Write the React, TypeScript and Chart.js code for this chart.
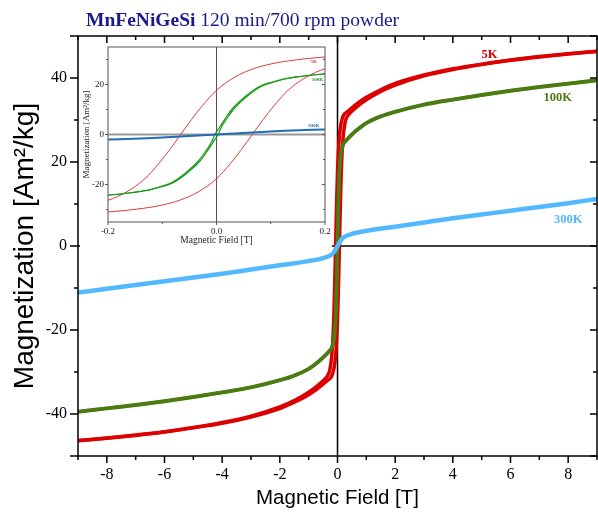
import React, { useEffect, useRef } from "react";
import { Chart, registerables } from "chart.js";

Chart.register(...registerables);

// ---------------- data ----------------
// 5 K loop, descending branch (coming from +9 T), listed in ascending field order
const FIELD_5K_DESC = [-9, -8, -7, -6, -5, -4, -3, -2, -1.5, -1, -0.7, -0.5, -0.4, -0.3, -0.266, -0.2, -0.166, -0.132, -0.106, -0.086, -0.066, -0.046, -0.026, 0, 0.034, 0.068, 0.1, 0.134, 0.2, 0.35, 0.5, 0.7, 1, 1.5, 2, 3, 4, 5, 6, 7, 8, 9];
const M_5K_DESC = [-46.3, -45.7, -45.0, -44.2, -43.2, -42.0, -40.5, -38.3, -36.8, -34.8, -33.3, -32.1, -31.4, -30.3, -29.5, -26.3, -23.0, -17.7, -11.5, -6.0, 0, 6.0, 11.5, 17.7, 23.0, 26.3, 28.2, 29.5, 31.0, 32.0, 32.9, 34.0, 35.4, 37.2, 38.7, 40.7, 42.2, 43.3, 44.3, 45.1, 45.8, 46.4];
// 5 K loop, ascending branch (coming from -9 T)
const FIELD_5K_ASC = [-9, -8, -7, -6, -5, -4, -3, -2, -1.5, -1, -0.7, -0.5, -0.35, -0.2, -0.134, -0.1, -0.068, -0.034, 0, 0.026, 0.046, 0.066, 0.086, 0.106, 0.132, 0.166, 0.2, 0.266, 0.3, 0.4, 0.5, 0.7, 1, 1.5, 2, 3, 4, 5, 6, 7, 8, 9];
const M_5K_ASC = [-46.4, -45.8, -45.1, -44.3, -43.3, -42.2, -40.7, -38.7, -37.2, -35.4, -34.0, -32.9, -32.0, -31.0, -29.5, -28.2, -26.3, -23.0, -17.7, -11.5, -6.0, 0, 6.0, 11.5, 17.7, 23.0, 26.3, 29.5, 30.3, 31.4, 32.1, 33.3, 34.8, 36.8, 38.3, 40.5, 42.0, 43.2, 44.2, 45.0, 45.7, 46.3];

// 100 K loop
const FIELD_100K_DESC = [-9, -8, -7, -6, -5, -4, -3, -2, -1.5, -1, -0.7, -0.5, -0.3, -0.206, -0.156, -0.126, -0.106, -0.083, -0.056, -0.033, -0.021, -0.009, -0.003, 0.006, 0.018, 0.03, 0.053, 0.08, 0.103, 0.123, 0.153, 0.2, 0.3, 0.5, 0.7, 1, 1.5, 2, 3, 4, 5, 6, 7, 8, 9];
const M_100K_DESC = [-39.4, -38.6, -37.8, -36.9, -35.9, -34.8, -33.6, -31.9, -30.8, -29.2, -27.7, -26.5, -25.1, -24.3, -23.2, -22.2, -21.0, -19.3, -15.2, -10.5, -7.0, -3.0, 0, 3.0, 7.0, 10.5, 15.2, 19.3, 21.0, 22.2, 23.2, 24.3, 25.2, 26.6, 27.8, 29.3, 30.9, 32.0, 33.7, 34.9, 36.0, 37.0, 37.9, 38.7, 39.5];
const FIELD_100K_ASC = [-9, -8, -7, -6, -5, -4, -3, -2, -1.5, -1, -0.7, -0.5, -0.3, -0.2, -0.153, -0.123, -0.103, -0.08, -0.053, -0.03, -0.018, -0.006, 0.003, 0.009, 0.021, 0.033, 0.056, 0.083, 0.106, 0.126, 0.156, 0.206, 0.3, 0.5, 0.7, 1, 1.5, 2, 3, 4, 5, 6, 7, 8, 9];
const M_100K_ASC = [-39.5, -38.7, -37.9, -37.0, -36.0, -34.9, -33.7, -32.0, -30.9, -29.3, -27.8, -26.6, -25.2, -24.3, -23.2, -22.2, -21.0, -19.3, -15.2, -10.5, -7.0, -3.0, 0, 3.0, 7.0, 10.5, 15.2, 19.3, 21.0, 22.2, 23.2, 24.3, 25.1, 26.5, 27.7, 29.2, 30.8, 31.9, 33.6, 34.8, 35.9, 36.9, 37.8, 38.6, 39.4];

// 300 K curve
const FIELD_300K = [-9, -8, -7, -6, -5, -4, -3, -2, -1, -0.5, -0.2, -0.1, 0, 0.1, 0.2, 0.5, 1, 2, 3, 4, 5, 6, 7, 8, 9];
const M_300K = [-11.1, -10.2, -9.3, -8.4, -7.5, -6.6, -5.6, -4.6, -3.6, -2.9, -2.0, -1.2, 0, 1.2, 2.0, 2.9, 3.6, 4.6, 5.6, 6.6, 7.5, 8.4, 9.3, 10.2, 11.2];

// ticks
const X_TICKS = [-9, -8, -7, -6, -5, -4, -3, -2, -1, 0, 1, 2, 3, 4, 5, 6, 7, 8, 9];
const X_TICK_LABELS = ["", "-8", "", "-6", "", "-4", "", "-2", "", "0", "", "2", "", "4", "", "6", "", "8", ""];
const Y_TICKS = [-50, -40, -30, -20, -10, 0, 10, 20, 30, 40, 50];
const Y_TICK_LABELS = ["", "-40", "", "-20", "", "0", "", "20", "", "40", ""];

const INSET_X_TICKS = [-0.2, -0.1, 0, 0.1, 0.2];
const INSET_X_LABELS = ["-0.2", "", "0.0", "", "0.2"];
const INSET_Y_TICKS = [-30, -20, -10, 0, 10, 20, 30];
const INSET_Y_LABELS = ["", "-20", "", "0", "", "20", ""];

// series labels (text + anchor in data units)
const SERIES_NAMES = ["5K", "100K", "300K"];
const MAIN_LABEL_X = [5.27, 7.64, 8.0];
const MAIN_LABEL_Y = [45.6, 35.2, 6.2];
const INSET_LABEL_X = [0.179, 0.186, 0.179];
const INSET_LABEL_Y = [29.1, 21.9, 3.6];

const TITLE_BOLD = "MnFeNiGeSi";
const TITLE_REST = " 120 min/700 rpm powder";

// ---------------- styles ----------------
const SERIF = '"Liberation Serif", "Times New Roman", serif';
const SANS = '"Liberation Sans", Arial, sans-serif';
const MAIN_COLORS = ["#dc0000", "#4b7b12", "#52b9ff"];
const INSET_COLORS = ["#e03a3a", "#1c9a1c", "#1f6db5"];

const pts = (xs: number[], ys: number[]) => xs.map((x, i) => ({ x, y: ys[i] }));
const labelFor = (ticks: number[], labels: string[], v: number) => {
  const i = ticks.findIndex((t) => Math.abs(t - v) < 1e-9);
  return i >= 0 ? labels[i] : "";
};

function makeDecor(id: string, cfg: any) {
  return {
    id,
    beforeDatasetsDraw(chart: any) {
      const { ctx, chartArea: a, scales } = chart;
      const x0 = scales.x.getPixelForValue(0);
      const y0 = scales.y.getPixelForValue(0);
      ctx.save();
      ctx.strokeStyle = cfg.zeroV.color;
      ctx.lineWidth = cfg.zeroV.width;
      ctx.beginPath();
      ctx.moveTo(x0, a.top);
      ctx.lineTo(x0, a.bottom);
      ctx.stroke();
      ctx.strokeStyle = cfg.zeroH.color;
      ctx.lineWidth = cfg.zeroH.width;
      ctx.beginPath();
      ctx.moveTo(a.left, y0);
      ctx.lineTo(a.right, y0);
      ctx.stroke();
      ctx.restore();
    },
    afterDatasetsDraw(chart: any) {
      const { ctx, chartArea: a, scales } = chart;
      const xs = scales.x;
      const ys = scales.y;
      ctx.save();
      ctx.strokeStyle = cfg.frameColor;
      ctx.lineWidth = cfg.frameWidth;
      ctx.strokeRect(a.left, a.top, a.right - a.left, a.bottom - a.top);
      ctx.lineWidth = cfg.tickWidth;
      ctx.beginPath();
      cfg.xTicks.forEach((v: number) => {
        const p = xs.getPixelForValue(v);
        const maj = cfg.xMajor(v);
        if (cfg.bottom) {
          const l = maj ? cfg.bottom[0] : cfg.bottom[1];
          ctx.moveTo(p, a.bottom);
          ctx.lineTo(p, a.bottom + l);
        }
        if (cfg.top) {
          const l = maj ? cfg.top[0] : cfg.top[1];
          ctx.moveTo(p, a.top);
          ctx.lineTo(p, a.top + l);
        }
      });
      cfg.yTicks.forEach((v: number) => {
        const p = ys.getPixelForValue(v);
        const maj = cfg.yMajor(v);
        if (cfg.left) {
          const l = maj ? cfg.left[0] : cfg.left[1];
          ctx.moveTo(a.left - l, p);
          ctx.lineTo(a.left, p);
        }
        if (cfg.right) {
          const l = maj ? cfg.right[0] : cfg.right[1];
          ctx.moveTo(a.right - l, p);
          ctx.lineTo(a.right, p);
        }
      });
      ctx.stroke();
      ctx.font = cfg.labelFont;
      ctx.textAlign = "center";
      ctx.textBaseline = "middle";
      cfg.labels.forEach((lb: any) => {
        ctx.fillStyle = lb.color;
        ctx.fillText(lb.text, xs.getPixelForValue(lb.x), ys.getPixelForValue(lb.y));
      });
      ctx.restore();
    },
    afterDraw(chart: any) {
      if (cfg.title) cfg.title(chart.ctx);
    },
  };
}

function lineDs(data: any[], color: string, width: number, order: number) {
  return {
    data,
    borderColor: color,
    backgroundColor: color,
    borderWidth: width,
    pointRadius: 0,
    fill: false,
    cubicInterpolationMode: "monotone",
    order,
  };
}

function mainConfig() {
  const decor = makeDecor("mainDecor", {
    xTicks: X_TICKS,
    yTicks: Y_TICKS,
    xMajor: (v: number) => v % 2 === 0,
    yMajor: (v: number) => v % 20 === 0 || Math.abs(v) === 50,
    bottom: [7, 4],
    top: [7, 4],
    left: [8, 4],
    right: [7, 4],
    frameColor: "#000",
    frameWidth: 1.5,
    tickWidth: 1.5,
    zeroV: { color: "#000", width: 1.5 },
    zeroH: { color: "#000", width: 1.5 },
    labelFont: `bold 12.5px ${SERIF}`,
    labels: SERIES_NAMES.map((t, i) => ({ text: t, x: MAIN_LABEL_X[i], y: MAIN_LABEL_Y[i], color: MAIN_COLORS[i] })),
    title: (ctx: any) => {
      ctx.save();
      ctx.fillStyle = "#1a1a8a";
      ctx.textBaseline = "alphabetic";
      ctx.textAlign = "left";
      ctx.font = `bold 19.5px ${SERIF}`;
      ctx.fillText(TITLE_BOLD, 86, 26);
      const w = ctx.measureText(TITLE_BOLD).width;
      ctx.font = `19.5px ${SERIF}`;
      ctx.fillText(TITLE_REST, 86 + w, 26);
      ctx.restore();
    },
  });
  return {
    type: "line",
    data: {
      datasets: [
        lineDs(pts(FIELD_300K, M_300K), MAIN_COLORS[2], 4.5, 0),
        lineDs(pts(FIELD_100K_DESC, M_100K_DESC), MAIN_COLORS[1], 3.5, 1),
        lineDs(pts(FIELD_100K_ASC, M_100K_ASC), MAIN_COLORS[1], 3.5, 1),
        lineDs(pts(FIELD_5K_DESC, M_5K_DESC), MAIN_COLORS[0], 3.5, 2),
        lineDs(pts(FIELD_5K_ASC, M_5K_ASC), MAIN_COLORS[0], 3.5, 2),
      ],
    },
    options: {
      animation: false,
      responsive: false,
      devicePixelRatio: 1,
      layout: { autoPadding: false, padding: { top: 36, right: 1, left: 0, bottom: 0 } },
      plugins: { legend: { display: false }, tooltip: { enabled: false }, title: { display: false } },
      scales: {
        x: {
          type: "linear",
          min: -9,
          max: 9,
          afterBuildTicks: (s: any) => {
            s.ticks = X_TICKS.map((v) => ({ value: v }));
          },
          afterFit: (s: any) => {
            s.height = 57;
            s.paddingLeft = 0;
            s.paddingRight = 0;
          },
          grid: { display: false, drawTicks: false },
          border: { display: false },
          ticks: {
            autoSkip: false,
            maxRotation: 0,
            padding: 9,
            color: "#000",
            font: { family: SERIF, size: 16 },
            callback: (v: number) => labelFor(X_TICKS, X_TICK_LABELS, v),
          },
          title: {
            display: true,
            text: "Magnetic Field [T]",
            color: "#000",
            font: { family: SANS, size: 20.5, lineHeight: 1.2 },
            padding: { top: 0, bottom: 2 },
          },
        },
        y: {
          type: "linear",
          min: -50,
          max: 50,
          afterBuildTicks: (s: any) => {
            s.ticks = Y_TICKS.map((v) => ({ value: v }));
          },
          afterFit: (s: any) => {
            s.width = 78;
            s.paddingTop = 0;
            s.paddingBottom = 0;
          },
          grid: { display: false, drawTicks: false },
          border: { display: false },
          ticks: {
            autoSkip: false,
            padding: 11,
            color: "#000",
            font: { family: SERIF, size: 16 },
            callback: (v: number) => labelFor(Y_TICKS, Y_TICK_LABELS, v),
          },
          title: {
            display: true,
            text: "Magnetization [Am²/kg]",
            color: "#000",
            font: { family: SANS, size: 28, lineHeight: 1 },
            padding: { top: 11, bottom: 0 },
          },
        },
      },
    },
    plugins: [decor],
  };
}

function insetConfig() {
  const decor = makeDecor("insetDecor", {
    xTicks: INSET_X_TICKS,
    yTicks: INSET_Y_TICKS,
    xMajor: (v: number) => Math.abs(Math.round(v * 10)) % 2 === 0,
    yMajor: (v: number) => v % 20 === 0,
    bottom: [3, 2],
    top: null,
    left: [3, 2],
    right: [3, 2],
    frameColor: "#555",
    frameWidth: 1,
    tickWidth: 1,
    zeroV: { color: "#555", width: 1 },
    zeroH: { color: "#999", width: 2 },
    labelFont: `bold 5px ${SERIF}`,
    labels: SERIES_NAMES.map((t, i) => ({ text: t, x: INSET_LABEL_X[i], y: INSET_LABEL_Y[i], color: INSET_COLORS[i] })),
  });
  return {
    type: "line",
    data: {
      datasets: [
        lineDs(pts(FIELD_300K, M_300K), INSET_COLORS[2], 2, 0),
        lineDs(pts(FIELD_100K_DESC, M_100K_DESC), INSET_COLORS[1], 1.2, 1),
        lineDs(pts(FIELD_100K_ASC, M_100K_ASC), INSET_COLORS[1], 1.2, 1),
        lineDs(pts(FIELD_5K_DESC, M_5K_DESC), INSET_COLORS[0], 1, 2),
        lineDs(pts(FIELD_5K_ASC, M_5K_ASC), INSET_COLORS[0], 1, 2),
      ],
    },
    options: {
      animation: false,
      responsive: false,
      devicePixelRatio: 1,
      layout: { autoPadding: false, padding: { top: 2, right: 7, left: 0, bottom: 0 } },
      plugins: { legend: { display: false }, tooltip: { enabled: false }, title: { display: false } },
      scales: {
        x: {
          type: "linear",
          min: -0.2,
          max: 0.2,
          afterBuildTicks: (s: any) => {
            s.ticks = INSET_X_TICKS.map((v) => ({ value: v }));
          },
          afterFit: (s: any) => {
            s.height = 30;
            s.paddingLeft = 0;
            s.paddingRight = 0;
          },
          grid: { display: false, drawTicks: false },
          border: { display: false },
          ticks: {
            autoSkip: false,
            maxRotation: 0,
            padding: 4,
            color: "#222",
            font: { family: SERIF, size: 9 },
            callback: (v: number) => labelFor(INSET_X_TICKS, INSET_X_LABELS, v),
          },
          title: {
            display: true,
            text: "Magnetic Field [T]",
            color: "#222",
            font: { family: SERIF, size: 9.5, lineHeight: 1.2 },
            padding: { top: 0, bottom: 5.5 },
          },
        },
        y: {
          type: "linear",
          min: -35,
          max: 35,
          afterBuildTicks: (s: any) => {
            s.ticks = INSET_Y_TICKS.map((v) => ({ value: v }));
          },
          afterFit: (s: any) => {
            s.width = 28;
            s.paddingTop = 0;
            s.paddingBottom = 0;
          },
          grid: { display: false, drawTicks: false },
          border: { display: false },
          ticks: {
            autoSkip: false,
            padding: 4,
            color: "#222",
            font: { family: SERIF, size: 9 },
            callback: (v: number) => labelFor(INSET_Y_TICKS, INSET_Y_LABELS, v),
          },
          title: {
            display: true,
            text: "Magnetization [Am²/kg]",
            color: "#222",
            font: { family: SERIF, size: 9, lineHeight: 1.2 },
            padding: { top: 1.6, bottom: 0 },
          },
        },
      },
    },
    plugins: [decor],
  };
}

export default function App() {
  const mainRef = useRef<HTMLCanvasElement>(null);
  const insetRef = useRef<HTMLCanvasElement>(null);
  useEffect(() => {
    const m = new Chart(mainRef.current as any, mainConfig() as any);
    const i = new Chart(insetRef.current as any, insetConfig() as any);
    return () => {
      m.destroy();
      i.destroy();
    };
  }, []);
  return (
    <div style={{ position: "fixed", left: 0, top: 0, width: 598, height: 513, background: "#fff" }}>
      <canvas ref={mainRef} width={598} height={513} style={{ position: "absolute", left: 0, top: 0 }} />
      <canvas
        ref={insetRef}
        width={252}
        height={207}
        style={{ position: "absolute", left: 80, top: 45, background: "#fff" }}
      />
    </div>
  );
}
